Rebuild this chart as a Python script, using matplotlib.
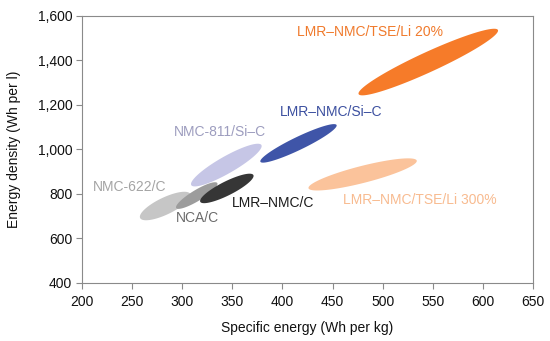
import numpy as np
import matplotlib
matplotlib.use("Agg")
from matplotlib import pyplot as plt

plt.rcParams["font.family"] = ["Liberation Sans", "DejaVu Sans"]
plt.rcParams["font.size"] = 10

# each cell chemistry: (specific energy, energy density) at the two ends of its range
names = ["NMC-811/Si–C", "NMC-622/C", "NCA/C", "LMR–NMC/C",
         "LMR–NMC/Si–C", "LMR–NMC/TSE/Li 300%", "LMR–NMC/TSE/Li 20%"]
low_end = [(309, 840), (258, 692), (294, 737), (318, 765),
           (378, 945), (426, 826), (476, 1249)]
high_end = [(379, 1020), (308, 800), (335, 849), (371, 885),
            (454, 1110), (534, 950), (615, 1537)]

# look of each blob
fill_colors = ["#c6c6e6", "#c6c6c6", "#9c9c9c", "#363636",
               "#3f55a8", "#fbc39b", "#f67b29"]
thickness_px = [17, 17, 11, 14, 13, 17, 20]
label_colors = ["#9d9dbf", "#a4a4a4", "#6b6b6b", "#1c1c1c",
                "#3c50a0", "#f8bb90", "#f07a2c"]
label_pos = [(292, 1077), (211, 833), (293.5, 691), (349.5, 758),
             (397.5, 1170), (460.5, 773), (415, 1529)]

xmin, xmax = 200, 650
ymin, ymax = 400, 1600

fig = plt.figure(figsize=(5.5, 3.41), dpi=100)
ax = fig.add_axes([0.1491, 0.1701, 0.8200, 0.7830])
ax.set_xlim(xmin, xmax)
ax.set_ylim(ymin, ymax)

# pixels per data unit, so the blobs look like real ellipses on screen
w_px = 0.8200 * 550
h_px = 0.7830 * 341
sx = w_px / (xmax - xmin)
sy = h_px / (ymax - ymin)

t = np.linspace(0, 2 * np.pi, 200)
for i in range(len(names)):
    x1, y1 = low_end[i][0] * sx, low_end[i][1] * sy
    x2, y2 = high_end[i][0] * sx, high_end[i][1] * sy
    cx, cy = (x1 + x2) / 2, (y1 + y2) / 2
    ax_x, ax_y = (x2 - x1) / 2, (y2 - y1) / 2
    a = np.hypot(ax_x, ax_y)
    ux, uy = ax_x / a, ax_y / a
    b = thickness_px[i] / 2
    px = cx + a * np.cos(t) * ux - b * np.sin(t) * uy
    py = cy + a * np.cos(t) * uy + b * np.sin(t) * ux
    ax.fill(px / sx, py / sy, color=fill_colors[i], lw=0, zorder=2 + i)
    ax.text(label_pos[i][0], label_pos[i][1], names[i], color=label_colors[i],
            ha="left", va="center", fontsize=10, zorder=20)

ax.set_xticks(np.arange(200, 651, 50))
ax.set_yticks(np.arange(400, 1601, 200))
ax.set_yticklabels([f"{v:,}" for v in range(400, 1601, 200)])

spine_col = "#8a8a8a"
for s in ax.spines.values():
    s.set_color(spine_col)
    s.set_linewidth(0.8)
ax.tick_params(direction="out", length=4, width=0.8, color=spine_col,
               labelsize=10, labelcolor="#111111", pad=3)
ax.tick_params(axis="x", pad=5)

ax.set_xlabel("Specific energy (Wh per kg)", fontsize=10, color="#111111")
ax.set_ylabel("Energy density (Wh per l)", fontsize=10, color="#111111")
ax.xaxis.set_label_coords(0.5, -0.142)
ax.yaxis.set_label_coords(-0.135, 0.5)

fig.savefig("out.png", dpi=100)
